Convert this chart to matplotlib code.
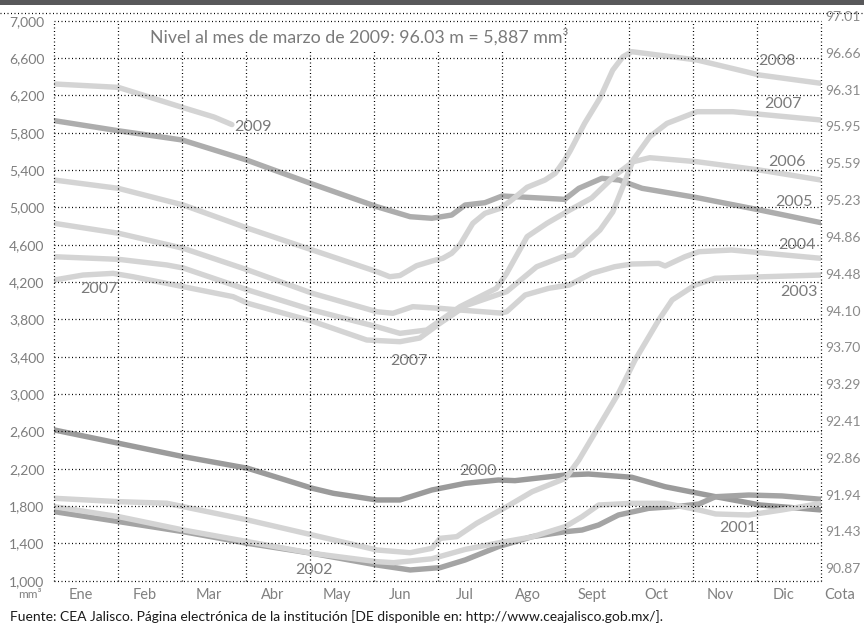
import matplotlib
matplotlib.use("Agg")
import matplotlib.pyplot as plt
from matplotlib.lines import Line2D
from matplotlib.patches import Rectangle
import numpy as np

plt.rcParams['font.family'] = ['Lato', 'DejaVu Sans']

# ---- data -------------------------------------------------------------
months = ["Ene", "Feb", "Mar", "Abr", "May", "Jun",
          "Jul", "Ago", "Sept", "Oct", "Nov", "Dic"]
vol_ticks = list(range(1000, 7001, 400))
cota_labels = ["97.01", "96.66", "96.31", "95.95", "95.59", "95.23", "94.86",
               "94.48", "94.10", "93.70", "93.29", "92.41", "92.86", "91.94",
               "91.43", "90.87"]

# x = position in months (0 = start of Ene, 12 = end of Dic), v = volume (mm3)
x_2009 = [0, 1.0, 2.0, 2.5, 2.78]
v_2009 = [6322, 6286, 6072, 5968, 5887]

x_2008 = [0, 1.0, 2.02, 3.03, 4.04, 5.05, 5.25, 5.41, 5.67, 5.91, 6.08, 6.22,
          6.35, 6.55, 6.74, 6.98, 7.16, 7.40, 7.68, 7.84, 7.99, 8.07, 8.3,
          8.54, 8.74, 8.9, 9.04, 10.06, 11.04, 12]
v_2008 = [5293, 5204, 5025, 4776, 4543, 4311, 4257, 4270, 4375, 4425, 4454,
          4508, 4600, 4829, 4936, 4990, 5079, 5215, 5293, 5365, 5508, 5600,
          5900, 6170, 6470, 6614, 6668, 6579, 6418, 6329]

x_2007 = [0, 0.45, 0.92, 1.23, 2.02, 2.80, 3.03, 4.04, 4.89, 5.41, 5.72, 6.04,
          6.45, 6.92, 7.08, 7.55, 7.96, 8.12, 8.54, 8.74, 8.9, 9.06, 9.32,
          9.59, 10.06, 10.62, 12]
v_2007 = [4222, 4275, 4293, 4257, 4150, 4043, 3972, 3780, 3579, 3561, 3600,
          3760, 3950, 4060, 4097, 4364, 4472, 4490, 4757, 4950, 5222, 5508,
          5757, 5900, 6025, 6025, 5936]

x_2006 = [0, 1.01, 1.76, 2.02, 3.03, 4.04, 5.05, 5.41, 5.83, 6.35, 6.92, 7.08,
          7.4, 7.71, 8.07, 8.41, 8.79, 9.06, 9.32, 10.06, 11.04, 12]
v_2006 = [4471, 4443, 4383, 4350, 4115, 3900, 3721, 3650, 3686, 3936, 4133,
          4293, 4686, 4829, 4972, 5100, 5350, 5489, 5532, 5489, 5400, 5293]

x_2005 = [0, 1.0, 2.0, 3.01, 4.04, 5.05, 5.57, 5.91, 6.22, 6.43, 6.74, 7.01,
          7.99, 8.21, 8.57, 8.84, 9.20, 10.03, 11.04, 12]
v_2005 = [5929, 5821, 5722, 5507, 5250, 5007, 4900, 4883, 4918, 5025, 5050,
          5122, 5086, 5204, 5311, 5293, 5204, 5108, 4972, 4836]

x_2004 = [0, 1.01, 2.02, 3.03, 4.04, 5.05, 5.3, 5.61, 6.04, 6.35, 6.98, 7.08,
          7.37, 7.74, 8.06, 8.41, 8.77, 9.04, 9.46, 9.56, 9.87, 10.09, 10.6, 12]
v_2004 = [4829, 4722, 4561, 4329, 4079, 3882, 3865, 3936, 3918, 3900, 3868,
          3882, 4061, 4133, 4168, 4293, 4364, 4393, 4400, 4372, 4471, 4525,
          4543, 4454]

x_2003 = [0, 1.01, 1.76, 3.03, 4.04, 5.05, 5.57, 5.91, 6.04, 6.3, 6.61, 7.08,
          7.48, 8.0, 8.21, 8.52, 8.83, 9.09, 9.46, 9.67, 10.03, 10.34, 11.12, 12]
v_2003 = [1883, 1847, 1830, 1650, 1490, 1329, 1300, 1347, 1454, 1472, 1615,
          1793, 1954, 2097, 2293, 2650, 3008, 3365, 3793, 4008, 4168, 4240,
          4257, 4275]

x_2002 = [0, 1.01, 2.02, 3.03, 4.04, 5.05, 5.57, 6.04, 6.43, 6.95, 7.48, 8.0,
          8.26, 8.52, 8.83, 9.3, 9.82, 10.09, 10.35, 10.87, 11.39, 12]
v_2002 = [1740, 1633, 1525, 1400, 1293, 1168, 1115, 1140, 1222, 1365, 1472,
          1525, 1543, 1597, 1704, 1775, 1800, 1822, 1900, 1918, 1908, 1872]

x_2001 = [0, 1.01, 2.02, 3.03, 4.04, 5.05, 5.31, 5.91, 6.43, 6.95, 7.48, 8.0,
          8.26, 8.52, 9.04, 9.56, 10.09, 10.35, 10.87, 11.39, 12]
v_2001 = [1793, 1686, 1543, 1418, 1293, 1204, 1193, 1235, 1335, 1405, 1470,
          1580, 1686, 1811, 1829, 1829, 1758, 1715, 1704, 1758, 1829]

x_2000 = [0, 1.01, 2.02, 3.03, 4.04, 4.37, 5.05, 5.41, 5.91, 6.43, 6.95, 7.21,
          8.0, 8.36, 9.04, 9.56, 10.35, 11.05, 12]
v_2000 = [2615, 2472, 2329, 2204, 1990, 1936, 1865, 1865, 1972, 2043, 2079,
          2072, 2133, 2143, 2108, 2007, 1900, 1811, 1758]

# ---- styling ----------------------------------------------------------
LIGHT = "#d4d4d4"
series = [
    ("2000", x_2000, v_2000, "#9b9b9b"),
    ("2002", x_2002, v_2002, "#a4a4a4"),
    ("2005", x_2005, v_2005, "#adadad"),
    ("2001", x_2001, v_2001, LIGHT),
    ("2003", x_2003, v_2003, LIGHT),
    ("2004", x_2004, v_2004, LIGHT),
    ("2006", x_2006, v_2006, LIGHT),
    ("2007", x_2007, v_2007, LIGHT),
    ("2008", x_2008, v_2008, LIGHT),
    ("2009", x_2009, v_2009, LIGHT),
]

# label text, month position, volume
year_labels = [
    ("2009", 3.11, 5861), ("2007", 0.70, 4125), ("2007", 5.55, 3354),
    ("2008", 11.31, 6568), ("2007", 11.40, 6107), ("2006", 11.47, 5486),
    ("2005", 11.58, 5057), ("2004", 11.62, 4597), ("2003", 11.65, 4093),
    ("2000", 6.63, 2176), ("2001", 10.70, 1565), ("2002", 4.07, 1115),
]

W, H = 864, 629
fig = plt.figure(figsize=(W / 100, H / 100), dpi=100)
fig.patch.set_facecolor("white")

# top band and dotted rule
fig.add_artist(Rectangle((0, 1 - 5 / H), 1, 5 / H, transform=fig.transFigure,
                         facecolor="#58585a", edgecolor="none"))
DOT = (0, (0.8, 2.0))
fig.add_artist(Line2D([0, 1], [1 - 12.7 / H] * 2, transform=fig.transFigure,
                      color="black", lw=0.9, linestyle=DOT))

left, right, top, bottom = 54.3, 821, 20.7, 580.7
ax = fig.add_axes([left / W, 1 - bottom / H, (right - left) / W, (bottom - top) / H])
ax.set_xlim(0, 12)
ax.set_ylim(1000, 7000)
for s in ax.spines.values():
    s.set_visible(False)
ax.set_xticks([])
ax.set_yticks(vol_ticks)
ax.set_yticklabels([f"{v:,}" for v in vol_ticks], color="#7d7d7d", fontsize=10)
ax.tick_params(axis="y", length=0, pad=7)

# dotted grid (drawn above the curves)
for v in vol_ticks:
    ax.plot([0, 12], [v, v], color="black", lw=0.9, linestyle=DOT,
            zorder=5, clip_on=False)
for k in range(13):
    ytop = 6690 if 2 <= k <= 7 else 7000
    ax.plot([k, k], [1000, ytop], color="black", lw=0.9, linestyle=DOT,
            zorder=5, clip_on=False)

# curves: darker years first, light years on top
for name, xs, vs, col in series:
    ax.plot(xs, vs, color=col, lw=3.9, solid_capstyle="round",
            solid_joinstyle="round", zorder=3)

for txt, xm, vv in year_labels:
    ax.text(xm, vv, txt, ha="center", va="center", fontsize=11.5,
            color="#7a7a7a", zorder=6)

# month labels
y_month = 1000 - (595 - bottom) * 6000 / (bottom - top)
for i, m in enumerate(months):
    ax.text(i + 0.42, y_month, m, ha="center", va="center", fontsize=10.5,
            color="#808080", clip_on=False)
ax.text((29.5 - left) / ((right - left) / 12), y_month, "mm³", ha="center",
        va="center", fontsize=8.5, color="#808080", clip_on=False)
ax.text((839.5 - left) / ((right - left) / 12), y_month, "Cota", ha="center",
        va="center", fontsize=10.5, color="#808080", clip_on=False)

# elevation scale on the right
cota_y = np.linspace(7040, 1122, len(cota_labels))
for lab, yv in zip(cota_labels, cota_y):
    ax.text(12.06, yv, lab, ha="left", va="center", fontsize=10,
            color="#8a8a8a", clip_on=False)

# title
ax.text(1.5, 6830, "Nivel al mes de marzo de 2009: 96.03 m = 5,887 mm³",
        ha="left", va="center", fontsize=12.8, color="#7a7a7a", zorder=6)

# source note
fig.text(10 / W, 1 - 617 / H,
         "Fuente: CEA Jalisco. Página electrónica de la institución "
         "[DE disponible en: http://www.ceajalisco.gob.mx/].",
         ha="left", va="center", fontsize=10, color="#1a1a1a")

fig.savefig("out.png", dpi=100)
